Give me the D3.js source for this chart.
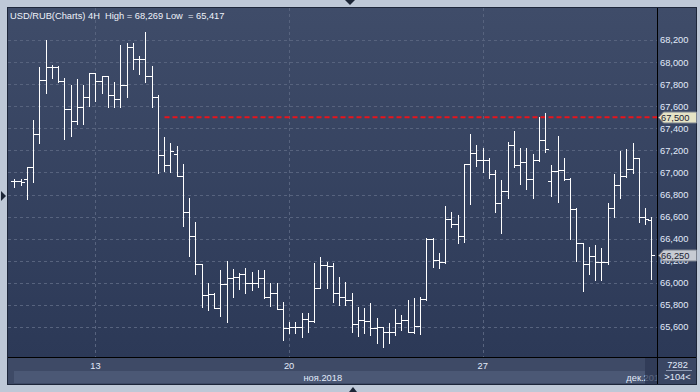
<!DOCTYPE html>
<html>
<head>
<meta charset="utf-8">
<script src="https://cdn.jsdelivr.net/npm/d3@7"></script>
<style>
	body { margin: 0; background: #bec8d7; }
	svg { display: block; }
	text { font-family: 'Liberation Sans', Arial, sans-serif; white-space: pre; }
</style>
</head>
<body>
<svg width="700" height="392"></svg>
<script>
// 4H bars, USD/RUB
var opens = [66922, 66922, 66938, 67052, 67346, 67838, 67953, 67958, 67829, 67578,
	67469, 67590, 67681, 67898, 67831, 67874, 67699, 67663, 67792, 68139,
	68025, 68025, 67874, 67681, 67155, 67065, 67167, 66968, 66642, 66424,
	66168, 65890, 65899, 65769, 65987, 66041, 66050, 66080, 65996, 66001,
	66041, 65869, 65911, 65760, 65588, 65603, 65603, 65670, 65654, 65950,
	66162, 66152, 65911, 65874, 65844, 65627, 65663, 65657, 65588, 65597,
	65557, 65557, 65633, 65663, 65557, 65609, 65854, 66394, 66207, 66186,
	66581, 66533, 66424, 67077, 67174, 67110, 67113, 66983, 66720, 66835,
	67249, 67065, 67092, 66941, 67113, 67294, 66922, 67013, 67022, 66941,
	66669, 66358, 66168, 66243, 66192, 66192, 66675, 66886, 66971, 67031,
	67128, 66594, 66569];
var highs = [66941, 66943, 67052, 67475, 67958, 68200, 67973, 67964, 67858, 67792,
	67844, 67792, 67904, 67904, 67874, 67874, 67822, 68155, 68170, 68170,
	68055, 68269, 67964, 67702, 67324, 67270, 67240, 67077, 66769, 66551,
	66168, 65996, 65905, 66116, 66198, 66123, 66086, 66132, 66101, 66116,
	66116, 65996, 65996, 65829, 65648, 65648, 65724, 65724, 66177, 66237,
	66192, 66177, 66056, 66010, 65911, 65784, 65769, 65815, 65679, 65597,
	65633, 65760, 65709, 65844, 65860, 65874, 66403, 66403, 66268, 66696,
	66644, 66614, 67077, 67348, 67249, 67219, 67128, 67022, 66932, 67279,
	67376, 67219, 67219, 67167, 67505, 67536, 67068, 67330, 67128, 66947,
	66675, 66364, 66327, 66343, 66318, 66720, 66986, 67197, 67210, 67264,
	67134, 66681, 66599];
var lows = [66868, 66889, 66757, 66916, 67264, 67723, 67858, 67822, 67300, 67330,
	67436, 67436, 67602, 67650, 67723, 67590, 67590, 67596, 67686, 67935,
	67889, 67822, 67596, 66998, 67016, 67007, 66968, 66515, 66243, 66080,
	65784, 65754, 65769, 65702, 65648, 65874, 65941, 65905, 65935, 65965,
	65860, 65790, 65760, 65482, 65543, 65548, 65507, 65557, 65648, 65950,
	65950, 65829, 65799, 65799, 65557, 65518, 65548, 65527, 65452, 65417,
	65452, 65527, 65573, 65557, 65543, 65536, 65844, 66146, 66132, 66180,
	66503, 66358, 66373, 66711, 67061, 67007, 66947, 66644, 66454, 66766,
	67052, 66895, 66847, 66766, 67100, 67183, 66789, 66730, 66932, 66394,
	66201, 65923, 66077, 66026, 66023, 66168, 66594, 66766, 66962, 66998,
	66551, 66530, 66035];
var closes = [66922, 66916, 67052, 67346, 67838, 67953, 67958, 67829, 67578, 67469,
	67590, 67681, 67898, 67831, 67874, 67699, 67663, 67792, 68139, 68025,
	68025, 67874, 67681, 67155, 67065, 67194, 66968, 66642, 66424, 66168,
	65890, 65899, 65769, 65987, 66041, 66050, 66080, 65996, 66001, 66041,
	65869, 65911, 65760, 65588, 65603, 65603, 65670, 65654, 65950, 66162,
	66152, 65911, 65874, 65844, 65627, 65663, 65657, 65588, 65597, 65557,
	65557, 65633, 65663, 65557, 65609, 65854, 66394, 66207, 66186, 66581,
	66533, 66424, 67077, 67174, 67110, 67113, 66983, 66720, 66835, 67249,
	67065, 67092, 66941, 67113, 67294, 67210, 67013, 67022, 66941, 66669,
	66358, 66168, 66243, 66192, 66192, 66675, 66886, 66971, 67031, 67128,
	66594, 66575, 66250];

var priceTicks = d3.range(65600, 68201, 200);
var dayLabels = ['13', '20', '27'];
var dayBars = [13, 44, 75];
var monthLabels = ['ноя.2018', 'дек.2018'];
var title = 'USD/RUB(Charts) 4H  High = 68,269 Low  = 65,417';
var levelPrice = 67500, levelFrom = 24;
var lastPrice = 66250;
var barCount = '7282', visibleBars = '>104<';

// note: "top" is taken by window.top, so plain names with a prefix
var plotL = 8, plotR = 657, plotT = 8, plotB = 357, edgeR = 696, edgeB = 384;
var fmt = d3.format(',');

var svg = d3.select('svg');
var defs = svg.append('defs');

var grad = defs.append('linearGradient')
	.attr('id', 'bg').attr('x1', 0).attr('y1', 0).attr('x2', 0).attr('y2', 1);
grad.append('stop').attr('offset', '0%').attr('stop-color', '#3f4c69');
grad.append('stop').attr('offset', '100%').attr('stop-color', '#2c3957');
defs.append('clipPath').attr('id', 'plotclip')
	.append('rect').attr('x', plotL).attr('y', plotT).attr('width', plotR - plotL).attr('height', plotB - plotT);
defs.append('clipPath').attr('id', 'dateclip')
	.append('rect').attr('x', plotL).attr('y', plotB).attr('width', plotR - plotL).attr('height', edgeB - plotB);

// frame
svg.append('rect').attr('x', plotL - 1).attr('y', plotT - 1)
	.attr('width', edgeR - plotL + 2).attr('height', edgeB - plotT + 2).attr('fill', '#1d263a');
svg.append('rect').attr('x', plotL).attr('y', plotT)
	.attr('width', edgeR - plotL).attr('height', plotB - plotT).attr('fill', 'url(#bg)');
svg.append('rect').attr('x', plotL).attr('y', plotB)
	.attr('width', plotR - plotL).attr('height', edgeB - plotB).attr('fill', '#3e4a66');
svg.append('rect').attr('x', plotL + 6).attr('y', plotB + 14)
	.attr('width', plotR - plotL - 18).attr('height', edgeB - plotB - 15).attr('fill', '#4b5875');
svg.append('rect').attr('x', plotR).attr('y', plotB)
	.attr('width', edgeR - plotR).attr('height', edgeB - plotB).attr('fill', '#3a4663');

var x = d3.scaleLinear().domain([0, opens.length - 1]).range([14.3, 651.3]);
var y = d3.scaleLinear().domain([65600, 68200]).range([327, 40]);
var px = i => Math.round(x(i)) + 0.5;
var py = v => Math.round(y(v)) + 0.5;

// grid
var grid = svg.append('g').attr('stroke', '#57637e').attr('stroke-dasharray', '3,3').attr('shape-rendering', 'crispEdges');
grid.selectAll('line.h').data(priceTicks).join('line').attr('class', 'h')
	.attr('x1', plotL).attr('x2', plotR).attr('y1', d => py(d)).attr('y2', d => py(d));
grid.selectAll('line.v').data(dayBars).join('line').attr('class', 'v')
	.attr('y1', plotT).attr('y2', plotB).attr('x1', d => px(d)).attr('x2', d => px(d));

// level line
svg.append('line')
	.attr('x1', px(levelFrom)).attr('x2', plotR)
	.attr('y1', y(levelPrice)).attr('y2', y(levelPrice))
	.attr('stroke', '#e8141c').attr('stroke-width', 2).attr('stroke-dasharray', '5,3');

// OHLC bars
var bars = opens.map((o, i) => ({ i: i, o: o, h: highs[i], l: lows[i], c: closes[i] }));
svg.append('g').attr('clip-path', 'url(#plotclip)')
	.selectAll('path').data(bars).join('path')
	.attr('d', d => {
		var cx = px(d.i);
		return 'M' + cx + ',' + Math.round(y(d.h)) + 'V' + (Math.round(y(d.l)) + 1)
			+ 'M' + (cx - 3.5) + ',' + py(d.o) + 'H' + cx
			+ 'M' + cx + ',' + py(d.c) + 'H' + (cx + 3.5);
	})
	.attr('fill', 'none').attr('stroke', '#ffffff').attr('stroke-width', 1)
	.attr('shape-rendering', 'crispEdges');

// right price axis
var axis = svg.append('g').attr('transform', 'translate(' + (plotR + 3) + ',0)')
	.call(d3.axisRight(y).tickValues(priceTicks).tickFormat(fmt).tickSize(0).tickPadding(0));
axis.select('.domain').remove();
axis.selectAll('text')
	.attr('fill', '#e2ebfb').attr('font-size', '9.3px')
	.attr('font-family', "'Liberation Sans', Arial, sans-serif");

function marker(v, fill) {
	var yy = Math.round(y(v)) + 0.5;
	var g = svg.append('g');
	g.append('path')
		.attr('d', 'M' + (plotR + 1.5) + ',' + yy + 'L' + (plotR + 6.5) + ',' + (yy - 5.5)
			+ 'H' + (edgeR + 0.5) + 'V' + (yy + 5.5) + 'H' + (plotR + 6.5) + 'Z')
		.attr('fill', fill).attr('stroke', '#7d838f');
	g.append('text').attr('x', plotR + 4).attr('y', yy + 3.5)
		.attr('font-size', '9.3px').attr('fill', '#1a2030').text(fmt(v));
}
marker(levelPrice, '#e6e4c6');
marker(lastPrice, '#c7cbd3');

// black separators
svg.append('line').attr('x1', plotR + 0.5).attr('x2', plotR + 0.5).attr('y1', plotT).attr('y2', edgeB)
	.attr('stroke', '#000');
svg.append('line').attr('x1', plotL).attr('x2', edgeR).attr('y1', plotB + 0.5).attr('y2', plotB + 0.5)
	.attr('stroke', '#000');

// date axis
svg.append('g').selectAll('text').data(dayLabels).join('text')
	.attr('x', (d, k) => x(dayBars[k])).attr('y', plotB + 12)
	.attr('text-anchor', 'middle').attr('font-size', '9.3px').attr('fill', '#e2ebfb')
	.text(d => d);
svg.append('text').attr('x', x(44) + 53).attr('y', plotB + 23.5)
	.attr('text-anchor', 'end').attr('font-size', '9.3px').attr('fill', '#e2ebfb')
	.text(monthLabels[0]);
svg.append('g').attr('clip-path', 'url(#dateclip)')
	.append('text').attr('x', x(98)).attr('y', plotB + 23.5)
	.attr('font-size', '9.3px').attr('fill', '#e2ebfb').text(monthLabels[1]);
svg.append('rect').attr('x', plotR - 12).attr('y', plotB + 1)
	.attr('width', 12).attr('height', edgeB - plotB - 1).attr('fill', '#2d3854').attr('opacity', 0.75);

// bar counter
svg.append('text').attr('x', (plotR + edgeR) / 2 + 1).attr('y', plotB + 10.5)
	.attr('text-anchor', 'middle').attr('font-size', '9.3px').attr('fill', '#e2ebfb').text(barCount);
svg.append('line').attr('x1', plotR + 9).attr('x2', edgeR - 4).attr('y1', plotB + 13.5).attr('y2', plotB + 13.5)
	.attr('stroke', '#8b97b0');
svg.append('text').attr('x', (plotR + edgeR) / 2 + 1).attr('y', plotB + 23)
	.attr('text-anchor', 'middle').attr('font-size', '9.3px').attr('fill', '#e2ebfb').text(visibleBars);

// title
svg.append('text').attr('x', 10).attr('y', 18.5)
	.attr('font-size', '9.3px').attr('fill', '#eef2fa').text(title);

// little arrows on the frame
svg.append('path').attr('d', 'M345,0 L355,0 L350,5 Z').attr('fill', '#1c2536');
svg.append('path').attr('d', 'M1,191 L1,201 L6,196 Z').attr('fill', '#1c2536');
svg.append('path').attr('d', 'M349,392 L357,392 L353,387 Z').attr('fill', '#1c2536');
</script>
</body>
</html>
